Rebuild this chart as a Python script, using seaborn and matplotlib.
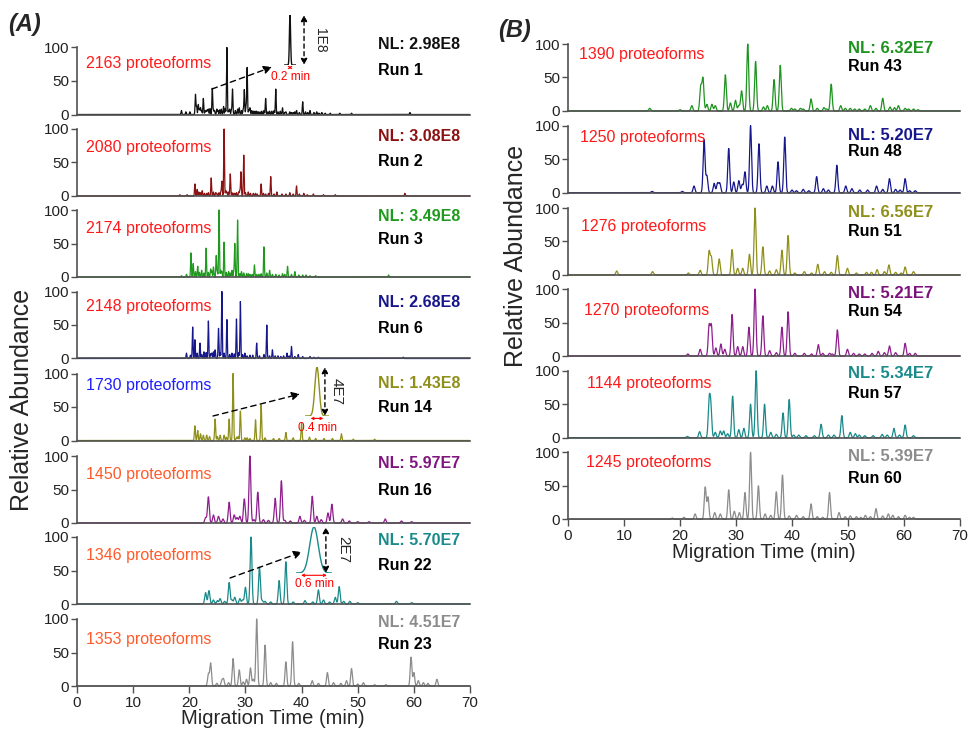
import numpy as np
import pandas as pd
import matplotlib
matplotlib.use("Agg")
import matplotlib.pyplot as plt
import seaborn as sns
from matplotlib.patches import FancyArrowPatch

# ---------------- data: (apex time in min, relative height in %) for each run ----------------
# Panel A
run1_peaks = [(18.6, 6), (19.4, 4), (20.1, 4), (21.1, 30), (21.3, 12), (21.6, 15), (21.8, 8), (22.0, 10), (22.2, 6),
              (22.5, 24), (22.8, 5), (23.0, 6), (23.2, 7), (23.4, 8), (23.7, 9), (24.1, 39), (24.3, 7), (24.5, 6),
              (24.9, 8), (25.1, 6), (25.4, 7), (25.7, 8), (26.1, 12), (26.4, 9), (26.7, 100), (27.0, 6), (27.2, 8),
              (27.5, 7), (27.7, 38), (28.2, 6), (28.6, 8), (28.9, 10), (29.3, 6), (29.6, 8), (29.8, 37), (30.1, 12),
              (30.3, 70), (30.6, 7), (30.8, 10), (31.1, 6), (31.4, 5), (31.7, 5), (32.0, 5), (32.3, 4), (32.6, 4),
              (32.9, 5), (33.3, 6), (33.6, 24), (34.0, 4), (34.3, 5), (34.7, 5), (35.1, 6), (35.4, 38), (35.8, 4),
              (36.2, 5), (36.6, 10), (37.0, 3), (37.2, 4), (37.9, 4), (38.2, 3), (38.5, 3), (38.8, 4), (39.1, 6),
              (39.6, 3), (40.2, 19), (40.7, 4), (41.1, 3), (41.5, 6), (42.2, 3), (42.7, 4), (43.1, 2), (43.6, 3),
              (44.2, 2), (45.1, 2), (46.8, 2), (48.9, 2), (59.3, 3)]

run2_peaks = [(18.3, 2), (19.6, 2), (21.0, 18), (21.4, 10), (21.7, 6), (22.0, 5), (22.3, 8), (22.7, 4), (23.1, 4),
              (23.4, 5), (23.9, 27), (24.3, 6), (24.7, 5), (24.9, 4), (25.3, 5), (25.6, 7), (25.8, 22), (26.2, 100),
              (26.5, 8), (26.7, 6), (27.0, 6), (27.3, 33), (27.6, 5), (27.9, 4), (28.1, 4), (28.4, 5), (28.8, 6),
              (29.0, 8), (29.2, 36), (29.7, 61), (30.0, 5), (30.5, 6), (30.9, 4), (31.4, 4), (31.8, 4), (32.1, 3),
              (32.8, 18), (33.2, 4), (33.6, 3), (34.1, 4), (34.5, 29), (35.1, 3), (35.6, 6), (36.5, 3), (37.2, 3),
              (37.9, 5), (38.5, 3), (39.1, 15), (39.6, 3), (40.4, 4), (41.0, 2), (42.1, 3), (43.9, 2), (46.0, 2),
              (58.4, 4)]

run3_peaks = [(18.6, 2), (19.5, 4), (20.3, 36), (20.7, 20), (21.1, 8), (21.5, 16), (21.8, 7), (22.2, 10), (22.6, 6),
              (23.0, 43), (23.4, 7), (23.8, 12), (24.0, 9), (24.3, 15), (24.8, 32), (25.0, 8), (25.3, 100), (25.6, 10),
              (25.8, 8), (26.2, 52), (26.6, 7), (27.0, 8), (27.3, 6), (27.6, 10), (27.9, 8), (28.1, 50), (28.6, 85),
              (29.0, 5), (29.3, 8), (29.7, 6), (30.2, 5), (30.5, 5), (30.8, 4), (31.2, 4), (31.6, 18), (32.0, 4),
              (32.4, 4), (32.8, 5), (33.3, 45), (33.8, 6), (34.3, 10), (34.8, 4), (35.4, 4), (36.0, 3), (36.6, 5),
              (37.0, 4), (37.5, 16), (38.2, 4), (38.8, 8), (39.5, 3), (40.2, 3), (40.8, 3), (41.5, 2), (42.5, 2),
              (55.5, 3)]

run6_peaks = [(19.5, 8), (20.2, 5), (20.6, 47), (21.0, 28), (21.4, 8), (21.9, 23), (22.2, 6), (22.6, 10), (23.0, 9),
              (23.4, 56), (23.8, 7), (24.0, 8), (24.3, 10), (24.6, 13), (25.2, 45), (25.5, 9), (25.8, 100), (26.2, 8),
              (26.7, 58), (27.2, 6), (27.6, 8), (28.0, 7), (28.4, 59), (28.8, 9), (29.1, 85), (29.5, 6), (29.9, 8),
              (30.3, 4), (30.8, 5), (31.3, 5), (32.0, 23), (32.5, 4), (33.3, 6), (33.8, 50), (34.3, 4), (34.8, 13),
              (35.3, 4), (35.8, 4), (36.3, 3), (36.8, 4), (37.4, 8), (37.8, 4), (38.2, 18), (38.8, 3), (39.4, 6),
              (40.2, 3), (41.5, 3), (42.2, 2), (43.0, 2), (58.1, 2)]

run14_peaks = [(21.0, 22), (21.5, 15), (22.0, 10), (22.5, 8), (23.1, 8), (23.6, 6), (24.6, 32), (25.0, 6), (25.5, 8),
               (26.2, 8), (26.6, 5), (27.1, 32), (27.8, 100), (28.4, 5), (28.7, 6), (29.1, 44), (29.9, 4), (30.3, 4),
               (30.8, 3), (31.8, 31), (32.8, 53), (33.5, 4), (35.0, 3), (36.0, 3), (37.2, 12), (38.5, 4), (40.0, 26),
               (41.4, 5), (42.5, 3), (44.0, 3), (45.5, 3), (47.1, 10), (49.2, 2), (53.0, 2)]

run16_peaks = [(22.9, 8), (23.4, 39), (24.3, 12), (25.2, 10), (26.0, 6), (27.1, 31), (28.0, 12), (28.5, 8), (29.0, 10),
               (29.8, 36), (30.8, 100), (31.5, 5), (32.2, 46), (33.2, 5), (34.1, 4), (35.3, 37), (36.4, 63), (37.0, 4),
               (38.0, 3), (39.7, 10), (40.5, 4), (41.9, 40), (42.7, 10), (43.5, 5), (44.7, 15), (45.4, 28), (47.3, 6),
               (48.5, 3), (50.0, 2), (52.0, 2), (54.9, 6), (57.8, 3), (59.6, 2)]

run22_peaks = [(22.9, 17), (23.5, 20), (24.3, 6), (25.0, 5), (25.5, 8), (26.3, 4), (27.1, 32), (27.6, 6), (28.1, 10),
               (29.0, 8), (29.5, 6), (30.0, 25), (31.0, 100), (32.5, 55), (33.0, 5), (33.5, 4), (34.5, 3), (36.0, 35),
               (37.2, 63), (38.5, 3), (40.6, 5), (42.0, 3), (43.0, 21), (43.9, 6), (45.0, 3), (46.0, 10), (46.7, 26),
               (47.5, 4), (48.6, 4), (50.0, 2), (56.9, 4), (59.6, 2)]

run23_peaks = [(23.4, 18), (23.8, 34), (24.9, 4), (25.8, 8), (26.1, 10), (27.0, 5), (27.8, 41), (28.9, 24), (29.6, 6),
               (30.2, 10), (30.9, 27), (31.4, 10), (32.0, 100), (33.5, 61), (34.5, 5), (35.5, 4), (37.2, 36), (38.4, 66),
               (39.5, 4), (41.9, 8), (43.0, 4), (44.6, 20), (45.7, 5), (47.0, 4), (48.0, 8), (48.9, 26), (50.0, 3),
               (51.0, 5), (53.0, 2), (55.0, 2), (59.5, 43), (60.0, 20), (60.8, 8), (61.7, 5), (62.5, 4), (64.1, 10)]

# Panel B
run43_peaks = [(14.6, 4), (20.0, 2), (22.1, 8), (23.7, 36), (24.1, 48), (24.8, 10), (25.7, 10), (26.3, 8), (28.1, 54),
               (29.0, 12), (29.9, 16), (30.5, 8), (31.0, 30), (32.1, 100), (33.5, 74), (34.9, 6), (35.6, 8), (36.8, 47),
               (37.9, 68), (39.9, 4), (40.5, 3), (41.5, 4), (42.0, 3), (43.4, 18), (44.5, 4), (45.7, 5), (46.2, 3),
               (47.0, 40), (48.7, 8), (49.5, 4), (50.4, 4), (51.2, 3), (52.0, 3), (53.0, 3), (54.0, 8), (55.0, 4),
               (56.2, 19), (57.5, 6), (58.3, 5), (59.0, 8), (60.2, 4), (60.8, 3), (61.7, 3), (62.5, 2)]

run48_peaks = [(15.0, 2), (20.4, 2), (22.5, 10), (24.3, 79), (24.8, 25), (26.1, 14), (26.7, 14), (27.1, 14), (28.7, 66),
               (29.6, 16), (30.5, 18), (31.1, 12), (31.6, 31), (32.6, 100), (34.1, 73), (35.5, 10), (36.5, 10),
               (37.5, 46), (38.7, 83), (40.0, 4), (40.8, 3), (42.0, 5), (43.0, 3), (44.4, 24), (45.6, 6), (46.5, 4),
               (48.0, 41), (49.6, 10), (50.7, 6), (52.1, 4), (53.5, 4), (55.1, 10), (56.2, 5), (57.4, 21), (58.5, 5),
               (59.3, 4), (60.2, 21), (61.0, 3), (62.0, 3)]

run51_peaks = [(8.7, 6), (15.1, 5), (21.5, 3), (23.6, 7), (25.2, 35), (25.6, 26), (27.0, 24), (29.3, 38), (30.3, 10),
               (31.2, 10), (32.4, 31), (33.4, 100), (34.8, 42), (36.0, 6), (37.2, 8), (38.2, 37), (39.3, 59), (40.5, 3),
               (42.2, 5), (43.5, 3), (44.6, 16), (45.8, 5), (47.0, 4), (48.1, 29), (49.9, 10), (51.5, 3), (53.3, 4),
               (54.2, 4), (55.2, 8), (56.5, 5), (57.3, 15), (58.5, 4), (59.5, 3), (60.2, 12), (61.7, 5)]

run54_peaks = [(21.4, 3), (23.6, 10), (25.2, 45), (25.6, 45), (26.4, 12), (27.3, 18), (28.0, 10), (29.3, 62), (30.3, 14),
               (31.2, 14), (32.3, 43), (33.4, 100), (34.8, 60), (36.0, 8), (37.2, 5), (38.2, 43), (39.3, 66), (40.5, 4),
               (42.2, 4), (43.5, 3), (44.7, 17), (45.5, 4), (46.7, 4), (47.2, 3), (48.1, 39), (49.9, 10), (51.0, 4),
               (52.0, 3), (53.0, 3), (54.3, 4), (55.4, 7), (56.5, 5), (57.4, 15), (58.5, 5), (60.2, 19), (61.0, 4),
               (62.0, 4)]

run57_peaks = [(21.3, 2), (23.5, 9), (25.2, 52), (25.5, 45), (26.3, 8), (27.2, 10), (27.8, 10), (28.5, 6), (29.4, 62),
               (30.5, 12), (31.4, 14), (32.6, 50), (33.6, 100), (35.1, 50), (36.2, 8), (37.2, 5), (38.4, 37), (39.5, 57),
               (40.3, 4), (41.2, 4), (42.5, 3), (44.0, 3), (45.2, 20), (46.5, 4), (47.5, 4), (48.9, 33), (50.4, 8),
               (51.3, 6), (52.0, 4), (53.0, 3), (54.5, 3), (56.1, 5), (57.0, 4), (58.2, 14), (59.2, 4), (60.2, 19),
               (61.7, 3)]

run60_peaks = [(18.6, 2), (20.7, 3), (22.7, 8), (24.5, 48), (25.0, 33), (26.2, 10), (27.2, 8), (28.7, 44), (29.7, 12),
               (30.6, 10), (31.6, 40), (32.6, 100), (34.0, 50), (35.2, 8), (36.2, 6), (37.2, 41), (38.3, 66), (39.5, 5),
               (40.8, 6), (42.0, 4), (43.4, 23), (44.5, 4), (45.5, 3), (46.7, 40), (48.4, 10), (49.5, 4), (50.4, 5),
               (51.5, 4), (52.3, 3), (53.1, 6), (54.0, 4), (55.0, 16), (56.2, 5), (57.2, 8), (58.0, 6), (59.0, 4),
               (60.2, 6), (61.0, 3), (61.7, 3)]

# Run annotations
a_runs = [1, 2, 3, 6, 14, 16, 22, 23]
a_counts = [2163, 2080, 2174, 2148, 1730, 1450, 1346, 1353]
a_nl = [2.98e8, 3.08e8, 3.49e8, 2.68e8, 1.43e8, 5.97e7, 5.70e7, 4.51e7]
b_runs = [43, 48, 51, 54, 57, 60]
b_counts = [1390, 1250, 1276, 1270, 1144, 1245]
b_nl = [6.32e7, 5.20e7, 6.56e7, 5.21e7, 5.34e7, 5.39e7]

# Zoomed single-peak insets: run, base width (min), peak intensity
inset_runs = [1, 14, 22]
inset_widths = [0.2, 0.4, 0.6]
inset_heights = [1e8, 4e7, 2e7]

# ---------------- style ----------------
a_colors = ["#111111", "#8b1212", "#1f9a1f", "#17178c", "#8f8f1c", "#8e1e8e", "#1a8a8a", "#8c8c8c"]
a_nl_colors = ["#111111", "#8b1212", "#1f9a1f", "#17178c", "#8f8f1c", "#7e167e", "#1a8a8a", "#8c8c8c"]
a_count_colors = ["#ff1a1a"] * 4 + ["#1f1fff"] + ["#ff5a2a"] * 3
a_sigma = [0.07, 0.07, 0.07, 0.07, 0.09, 0.16, 0.16, 0.15]
b_colors = ["#1f931f", "#17178c", "#8f8f1c", "#8e1e8e", "#1a8a8a", "#8c8c8c"]
b_nl_colors = ["#1f931f", "#17178c", "#8f8f1c", "#7a147a", "#1a8a8a", "#8c8c8c"]
b_sigma = [0.17] * 6

a_traces = [run1_peaks, run2_peaks, run3_peaks, run6_peaks, run14_peaks, run16_peaks, run22_peaks, run23_peaks]
b_traces = [run43_peaks, run48_peaks, run51_peaks, run54_peaks, run57_peaks, run60_peaks]

sns.set_theme(style="white")
plt.rcParams["font.family"] = ["Liberation Sans", "DejaVu Sans"]

W, H = 971, 734
fig = plt.figure(figsize=(W / 100, H / 100), dpi=100)


def fx(x):
    return x / W


def fy(y):
    return 1 - y / H


GRID = np.round(np.arange(0, 70.0001, 0.01), 3)
SPINE = "#505050"
UNIT = 0.67          # pixels per % of relative abundance
YMIN, YMAX = -10, 118


def trace_frame(peaks, sigma, grid=GRID):
    y = np.zeros_like(grid)
    for t, h in peaks:
        y += h * np.exp(-0.5 * ((grid - t) / sigma) ** 2)
    return pd.DataFrame({"time": grid, "abundance": y})


def make_axes(left, right, y0, bottom_row):
    bottom = y0 - YMIN * UNIT
    top = y0 - YMAX * UNIT
    ax = fig.add_axes([fx(left), fy(bottom), fx(right - left), (bottom - top) / H])
    ax.set_facecolor("none")
    ax.set_xlim(0, 70)
    ax.set_ylim(YMIN, YMAX)
    for s in ("top", "right"):
        ax.spines[s].set_visible(False)
    ax.spines["left"].set_bounds(0, 100)
    ax.spines["bottom"].set_position(("data", 0))
    for s in ("left", "bottom"):
        ax.spines[s].set_color(SPINE)
        ax.spines[s].set_linewidth(1.2)
    ax.set_yticks([0, 50, 100])
    ax.tick_params(axis="y", left=True, direction="out", length=4, width=1,
                   color=SPINE, labelsize=11, pad=1.5, labelcolor="#222222")
    if bottom_row:
        ax.set_xticks(range(0, 71, 10))
        ax.tick_params(axis="x", bottom=True, direction="out", length=5, width=1,
                       color=SPINE, labelsize=11, pad=2, labelcolor="#222222")
    else:
        ax.set_xticks([])
    return ax


def nl_text(v):
    e = int(np.floor(np.log10(v)))
    return f"NL: {v / 10 ** e:.2f}E{e}"


def draw_panel(left, right, y0s, traces, colors, sigmas, runs, counts, nls, nl_colors,
               count_colors, count_x, count_y, nl_x, nl_y, run_y, nl_size):
    for i, (peaks, c) in enumerate(zip(traces, colors)):
        ax = make_axes(left, right, y0s[i], i == len(traces) - 1)
        df = trace_frame(peaks, sigmas[i])
        sns.lineplot(data=df, x="time", y="abundance", color=c, linewidth=0.9,
                     estimator=None, errorbar=None, legend=False, ax=ax, zorder=2)
        ax.set_xlabel("")
        ax.set_ylabel("")
        ax.text(count_x[i], count_y[i], f"{counts[i]} proteoforms", color=count_colors[i],
                fontsize=11.5, ha="left", va="center")
        ax.text(nl_x, nl_y[i], nl_text(nls[i]), color=nl_colors[i], fontsize=nl_size,
                fontweight="bold", ha="left", va="center")
        ax.text(nl_x, run_y[i], f"Run {runs[i]}", color="black", fontsize=11.5,
                fontweight="bold", ha="left", va="center")


# Panel A
a_y0 = [114.5, 196, 277, 358.5, 440.5, 523, 604, 686]
draw_panel(77, 470, a_y0, a_traces, a_colors, a_sigma, a_runs, a_counts, a_nl, a_nl_colors,
           a_count_colors, [1.6] * 8, [76, 73, 72, 77, 82, 73, 73, 70], 53.6,
           [104, 89, 90, 84, 85, 89, 95, 95], [66, 52, 56, 45, 49, 48, 57, 62], 11.5)

# Panel B
b_y0 = [111, 192.7, 275, 356, 437.7, 519.3]
draw_panel(568, 960, b_y0, b_traces, b_colors, b_sigma, b_runs, b_counts, b_nl, b_nl_colors,
           ["#ff1a1a"] * 6, [2.0, 2.2, 2.4, 2.9, 3.4, 3.3], [84, 83, 72, 68, 81, 85], 50.0,
           [94, 86, 94, 94, 96, 93], [66, 62, 65, 66, 66, 61], 12)

# Zoomed peak insets (pixel boxes) with width / height call-outs
inset_box = {1: (290, 15, 65, 6, 0.34), 14: (317, 367, 416, 12, 0.375), 22: (314, 527, 573, 18, 0.42)}
inset_vline = {1: 1.67, 14: 0.83, 22: 0.83}
inset_label_x = {1: 3.0, 14: 1.33, 22: 1.31}
inset_label_size = {1: 10, 14: 11, 22: 11}
pointer = {1: ((212, 89), (272, 67)), 14: ((213, 416), (300, 394)), 22: ((230, 578), (302, 552))}

for run, w, h in zip(inset_runs, inset_widths, inset_heights):
    cx, top, base, half, xhalf = inset_box[run]
    color = a_colors[a_runs.index(run)]
    axi = fig.add_axes([fx(cx - half), fy(base), fx(2 * half), (base - top) / H])
    axi.set_facecolor("none")
    axi.axis("off")
    grid = np.linspace(-xhalf, xhalf, 401)
    dfi = trace_frame([(0.0, h)], w / 6, grid)
    sns.lineplot(data=dfi, x="time", y="abundance", color=color, linewidth=1.0,
                 estimator=None, errorbar=None, legend=False, ax=axi)
    axi.set_xlim(-xhalf, xhalf)
    axi.set_ylim(0, h)
    # base width bracket
    axi.annotate("", xy=(w / 2, -0.05 * h), xytext=(-w / 2, -0.05 * h),
                 arrowprops=dict(arrowstyle="<->", color="red", lw=0.8, mutation_scale=4,
                                 shrinkA=0, shrinkB=0), annotation_clip=False)
    axi.text(0.02 * xhalf, -0.24 * h, f"{w:g} min", color="red", fontsize=8.6,
             ha="center", va="center", clip_on=False)
    # height arrow
    fa = inset_vline[run]
    axi.annotate("", xy=(fa, h), xytext=(fa, 0), xycoords=("axes fraction", "data"),
                 textcoords=("axes fraction", "data"),
                 arrowprops=dict(arrowstyle="<|-|>", color="black", lw=1.0,
                                 linestyle=(0, (3, 2.5)), mutation_scale=9,
                                 shrinkA=0, shrinkB=0), annotation_clip=False)
    e = int(np.floor(np.log10(h)))
    axi.text(inset_label_x[run], 0.5, f"{h / 10 ** e:.0f}E{e}", transform=axi.transAxes,
             rotation=270, fontsize=inset_label_size[run], ha="center", va="center",
             clip_on=False)
    (x0, y0), (x1, y1) = pointer[run]
    fig.add_artist(FancyArrowPatch((fx(x0), fy(y0)), (fx(x1), fy(y1)),
                                   transform=fig.transFigure, arrowstyle="-|>",
                                   mutation_scale=12, lw=1.0, linestyle=(0, (4, 3)),
                                   color="black", shrinkA=0, shrinkB=0))

# Shared labels
fig.text(fx(22), fy(400), "Relative Abundance", rotation=90, fontsize=18, ha="center", va="center")
fig.text(fx(516), fy(256), "Relative Abundance", rotation=90, fontsize=18, ha="center", va="center")
fig.text(fx(273), fy(719), "Migration Time (min)", fontsize=14.5, ha="center", va="center")
fig.text(fx(764), fy(553), "Migration Time (min)", fontsize=14.5, ha="center", va="center")
fig.text(fx(25), fy(25), "(A)", fontsize=17, fontweight="bold", fontstyle="italic", ha="center", va="center")
fig.text(fx(515), fy(31), "(B)", fontsize=17, fontweight="bold", fontstyle="italic", ha="center", va="center")

fig.savefig("out.png", dpi=100)
